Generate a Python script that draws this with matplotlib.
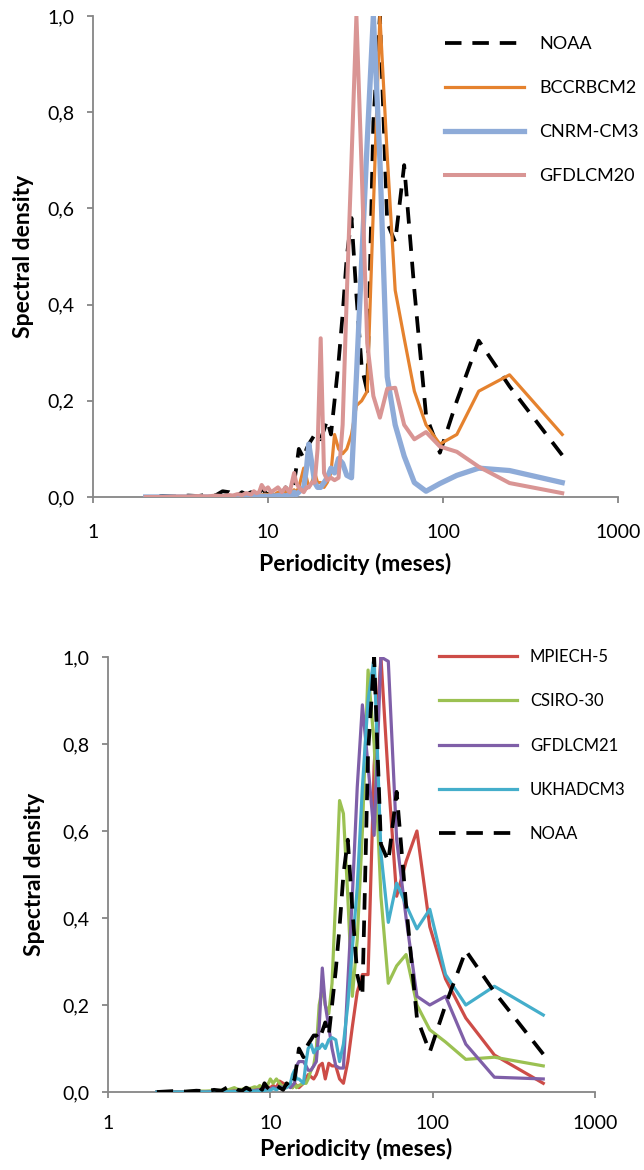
import matplotlib
matplotlib.use("Agg")
import matplotlib.pyplot as plt
from matplotlib.ticker import FixedLocator, FixedFormatter, NullLocator

plt.rcParams['font.family'] = ['Lato', 'DejaVu Sans']

# ---------------- data ----------------
periods = [480, 240, 160, 120, 96, 80, 68.6, 60, 53.3, 48,
           43.6, 40, 36.9, 34.3, 32, 30, 28.2, 26.7, 25.3, 24,
           22.9, 21.8, 20.9, 20, 19.2, 18.5, 17.8, 17.1, 16.6, 16,
           15, 14.5, 14.1, 13.7, 13.3, 12.6, 12, 11.4, 10.9, 10.4,
           10, 9.6, 9.2, 8.9, 8.6, 8.3, 8, 7.5, 7.1, 6.7,
           6.3, 6, 5.5, 5, 4.5, 4, 3.5, 3, 2.5, 2]

noaa = [0.087, 0.23, 0.325, 0.20, 0.092, 0.17, 0.43, 0.69, 0.53, 0.57,
        1.0, 0.78, 0.22, 0.27, 0.42, 0.58, 0.50, 0.38, 0.28, 0.20,
        0.13, 0.16, 0.14, 0.12, 0.13, 0.13, 0.12, 0.11, 0.10, 0.08,
        0.10, 0.06, 0.03, 0.02, 0.01, 0.02, 0.005, 0.01, 0.015, 0.01,
        0.005, 0.01, 0.02, 0.005, 0.01, 0.005, 0.01, 0.005, 0.01, 0.003,
        0.005, 0.01, 0.012, 0.003, 0.005, 0.002, 0.003, 0.001, 0.002, 0.0]

bccrbcm2 = [0.13, 0.254, 0.22, 0.13, 0.11, 0.15, 0.22, 0.33, 0.43, 0.71,
            1.0, 0.60, 0.22, 0.20, 0.19, 0.13, 0.10, 0.09, 0.10, 0.13,
            0.05, 0.03, 0.02, 0.03, 0.03, 0.05, 0.03, 0.02, 0.04, 0.06,
            0.02, 0.01, 0.015, 0.01, 0.005, 0.01, 0.008, 0.01, 0.005, 0.008,
            0.005, 0.006, 0.004, 0.005, 0.003, 0.004, 0.002, 0.003, 0.002, 0.002,
            0.001, 0.002, 0.001, 0.001, 0.001, 0.0, 0.001, 0.0, 0.0, 0.0]

cnrm_cm3 = [0.03, 0.055, 0.06, 0.045, 0.028, 0.012, 0.03, 0.085, 0.15, 0.25,
            0.70, 1.0, 0.74, 0.49, 0.25, 0.04, 0.045, 0.07, 0.08, 0.05,
            0.06, 0.04, 0.03, 0.02, 0.02, 0.03, 0.07, 0.11, 0.06, 0.02,
            0.01, 0.005, 0.01, 0.003, 0.005, 0.002, 0.004, 0.003, 0.002, 0.003,
            0.001, 0.002, 0.001, 0.002, 0.001, 0.001, 0.002, 0.001, 0.001, 0.0,
            0.001, 0.0, 0.001, 0.0, 0.0, 0.0, 0.0, 0.0, 0.0, 0.0]

gfdlcm20 = [0.008, 0.029, 0.063, 0.094, 0.105, 0.135, 0.12, 0.15, 0.227, 0.225,
            0.165, 0.21, 0.32, 0.68, 1.0, 0.70, 0.42, 0.15, 0.04, 0.035,
            0.04, 0.035, 0.05, 0.33, 0.10, 0.03, 0.03, 0.02, 0.02, 0.01,
            0.02, 0.03, 0.05, 0.03, 0.01, 0.02, 0.01, 0.02, 0.015, 0.01,
            0.02, 0.015, 0.025, 0.01, 0.008, 0.012, 0.005, 0.008, 0.004, 0.006,
            0.003, 0.004, 0.002, 0.003, 0.001, 0.002, 0.001, 0.001, 0.0, 0.0]

mpiech5 = [0.02, 0.085, 0.17, 0.26, 0.38, 0.60, 0.53, 0.45, 0.72, 1.0,
           0.75, 0.27, 0.27, 0.23, 0.15, 0.07, 0.02, 0.03, 0.06, 0.06,
           0.066, 0.03, 0.066, 0.06, 0.04, 0.03, 0.035, 0.04, 0.03, 0.02,
           0.01, 0.015, 0.02, 0.01, 0.02, 0.015, 0.02, 0.025, 0.01, 0.015,
           0.01, 0.012, 0.008, 0.01, 0.006, 0.008, 0.005, 0.006, 0.004, 0.004,
           0.003, 0.003, 0.002, 0.002, 0.001, 0.001, 0.001, 0.0, 0.0, 0.0]

csiro30 = [0.06, 0.08, 0.075, 0.115, 0.143, 0.20, 0.316, 0.29, 0.25, 0.45,
           0.80, 0.97, 0.60, 0.35, 0.22, 0.45, 0.64, 0.67, 0.45, 0.25,
           0.18, 0.20, 0.24, 0.20, 0.10, 0.06, 0.05, 0.03, 0.02, 0.02,
           0.015, 0.01, 0.02, 0.01, 0.015, 0.02, 0.01, 0.02, 0.03, 0.02,
           0.03, 0.015, 0.02, 0.01, 0.015, 0.01, 0.012, 0.008, 0.01, 0.006,
           0.006, 0.01, 0.005, 0.004, 0.003, 0.002, 0.002, 0.001, 0.0, 0.0]

gfdlcm21 = [0.03, 0.034, 0.11, 0.22, 0.20, 0.22, 0.40, 0.58, 0.99, 1.0,
            0.59, 0.75, 0.89, 0.70, 0.45, 0.25, 0.055, 0.055, 0.06, 0.10,
            0.15, 0.20, 0.285, 0.15, 0.07, 0.06, 0.05, 0.05, 0.06, 0.07,
            0.07, 0.06, 0.02, 0.015, 0.01, 0.015, 0.01, 0.012, 0.008, 0.01,
            0.006, 0.008, 0.005, 0.006, 0.004, 0.005, 0.003, 0.004, 0.003, 0.002,
            0.002, 0.002, 0.001, 0.001, 0.001, 0.0, 0.0, 0.0, 0.0, 0.0]

ukhadcm3 = [0.177, 0.243, 0.20, 0.27, 0.42, 0.375, 0.43, 0.48, 0.39, 0.55,
            1.0, 0.90, 0.70, 0.47, 0.33, 0.20, 0.11, 0.07, 0.12, 0.125,
            0.12, 0.10, 0.11, 0.10, 0.10, 0.09, 0.11, 0.10, 0.07, 0.02,
            0.03, 0.03, 0.05, 0.04, 0.02, 0.01, 0.008, 0.01, 0.005, 0.008,
            0.004, 0.005, 0.003, 0.004, 0.003, 0.002, 0.002, 0.002, 0.001, 0.001,
            0.001, 0.001, 0.001, 0.0, 0.0, 0.0, 0.0, 0.0, 0.0, 0.0]

x_ticks = [1, 10, 100, 1000]
x_tick_labels = ["1", "10", "100", "1000"]
y_ticks = [0.0, 0.2, 0.4, 0.6, 0.8, 1.0]
y_tick_labels = ["0,0", "0,2", "0,4", "0,6", "0,8", "1,0"]

# ---------------- styling ----------------
GRAY = "#868686"
W, H = 644, 1170
fig = plt.figure(figsize=(W / 100, H / 100), dpi=100)

NOAA_DASH = (4.4, 2.9)


def style_axes(ax, xpad, ylab_xy, xlab_xy):
    ax.set_xscale("log")
    ax.set_xlim(1, 1000)
    ax.set_ylim(0, 1.0)
    ax.xaxis.set_major_locator(FixedLocator(x_ticks))
    ax.xaxis.set_major_formatter(FixedFormatter(x_tick_labels))
    ax.xaxis.set_minor_locator(NullLocator())
    ax.yaxis.set_major_locator(FixedLocator(y_ticks))
    ax.yaxis.set_major_formatter(FixedFormatter(y_tick_labels))
    for s in ("top", "right"):
        ax.spines[s].set_visible(False)
    for s in ("left", "bottom"):
        ax.spines[s].set_color(GRAY)
        ax.spines[s].set_linewidth(1.3)
    ax.tick_params(axis="both", which="major", color=GRAY, width=1.3,
                   length=4.5, labelsize=14, labelcolor="black")
    ax.tick_params(axis="x", pad=xpad)
    ax.tick_params(axis="y", pad=9)
    ax.set_ylabel("Spectral density", fontsize=16.5, fontweight="bold")
    ax.set_xlabel("Periodicity (meses)", fontsize=16.5, fontweight="bold")
    ax.yaxis.set_label_coords(*ylab_xy)
    ax.xaxis.set_label_coords(*xlab_xy)
    ax.set_facecolor("white")


# ---- top chart ----
ax1 = fig.add_axes([93 / W, 1 - 497 / H, 525 / W, 481 / H])
ax1.plot(periods, noaa, color="black", lw=2.7, dashes=NOAA_DASH, label="NOAA", zorder=2)
ax1.plot(periods, bccrbcm2, color="#E5822E", lw=2.3, label="BCCRBCM2", zorder=3)
ax1.plot(periods, cnrm_cm3, color="#8EABD8", lw=3.8, label="CNRM-CM3", zorder=4)
ax1.plot(periods, gfdlcm20, color="#D99594", lw=2.9, label="GFDLCM20", zorder=5)
style_axes(ax1, xpad=15, ylab_xy=(-0.112, 0.5), xlab_xy=(0.5, -0.116))
ax1.legend(loc="upper left", bbox_to_anchor=(445 / W, 1 - 36 / H),
           bbox_transform=fig.transFigure, frameon=False, fontsize=13,
           handlelength=4.4, handletextpad=0.8, labelspacing=1.55,
           borderpad=0, borderaxespad=0)

# ---- bottom chart ----
ax2 = fig.add_axes([108 / W, 1 - 1092 / H, 487 / W, 435 / H])
ax2.plot(periods, mpiech5, color="#CD4C47", lw=2.3, label="MPIECH-5", zorder=2)
ax2.plot(periods, csiro30, color="#9BC152", lw=2.3, label="CSIRO-30", zorder=3)
ax2.plot(periods, gfdlcm21, color="#7F5FA8", lw=2.3, label="GFDLCM21", zorder=4)
ax2.plot(periods, ukhadcm3, color="#44AECB", lw=2.3, label="UKHADCM3", zorder=5)
ax2.plot(periods, noaa, color="black", lw=2.7, dashes=NOAA_DASH, label="NOAA", zorder=6)
style_axes(ax2, xpad=12, ylab_xy=(-0.13, 0.5), xlab_xy=(0.509, -0.106))
ax2.legend(loc="upper left", bbox_to_anchor=(439 / W, 1 - 649 / H),
           bbox_transform=fig.transFigure, frameon=False, fontsize=12,
           handlelength=4.7, handletextpad=0.75, labelspacing=1.7,
           borderpad=0, borderaxespad=0)

fig.savefig("out.png", dpi=100, facecolor="white")
